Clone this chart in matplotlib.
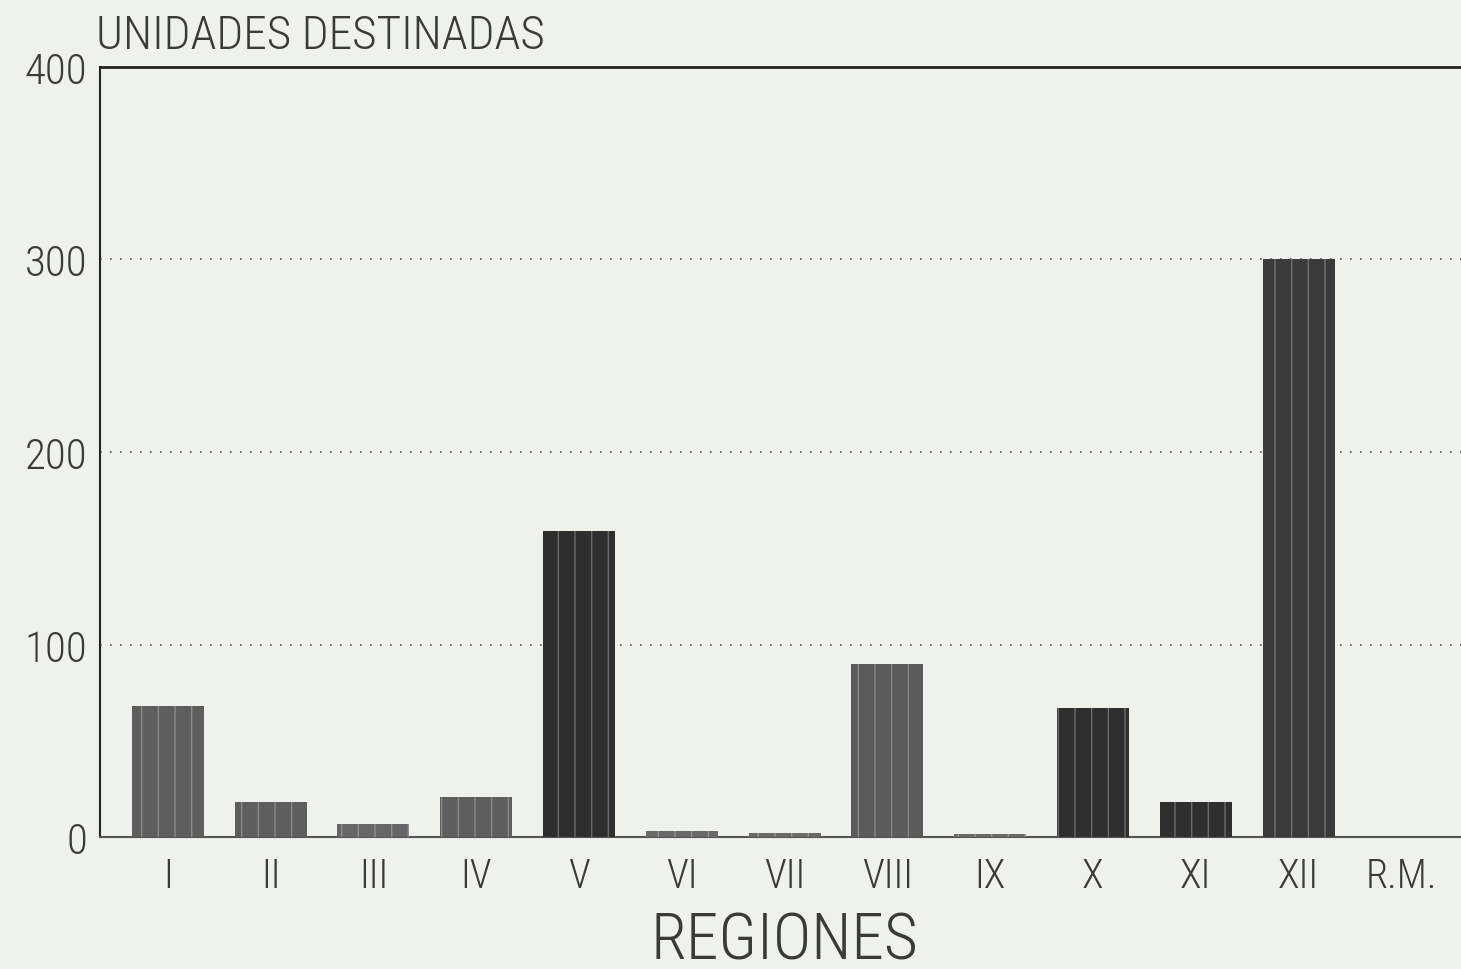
import matplotlib
matplotlib.use("Agg")
import matplotlib.pyplot as plt
from matplotlib import font_manager

regions = ["I", "II", "III", "IV", "V", "VI", "VII", "VIII", "IX", "X", "XI", "XII", "R.M."]
units = [68, 18, 7, 21, 159, 3, 2, 90, 1.5, 67, 18, 300, 0]
yticks = [0, 100, 200, 300, 400]

bar_colors = ["#5e5e5e", "#5e5e5e", "#666666", "#5e5e5e", "#2e2e2e", "#6a6a6a", "#6a6a6a",
              "#5a5a5a", "#6a6a6a", "#2f2f2f", "#2f2f2f", "#3a3a3a", "#3a3a3a"]

# pick a light / condensed font if one is installed
fam = "DejaVu Sans"
weight = "normal"
entries = font_manager.fontManager.ttflist
cands = ["Roboto Condensed", "Liberation Sans Narrow", "Open Sans Condensed", "Roboto", "Lato", "Open Sans", "Inter", "Noto Sans"]
found = False
for c in cands:
    for f in entries:
        if f.name == c and isinstance(f.weight, int) and f.weight <= 300:
            fam, weight, found = c, f.weight, True
            break
    if found:
        break
plt.rcParams["font.family"] = [fam, "DejaVu Sans"]
plt.rcParams["font.weight"] = weight

bg = "#eff2ec"
tc = "#3a3a3a"
fig = plt.figure(figsize=(14.61, 9.70), dpi=100, facecolor=bg)
ax = fig.add_axes([0.0684, 0.136, 0.9316, 0.794])
ax.set_facecolor(bg)

x = list(range(len(regions)))
ax.bar(x, units, width=0.70, color=bar_colors, edgecolor="none", zorder=3)
ax.bar(x, units, width=0.70, color="none", edgecolor="#dddddd", linewidth=0, hatch="|", zorder=4, alpha=0.35)

ax.set_xlim(-0.66, 12.58)
ax.set_ylim(0, 400)
ax.set_yticks(yticks)
ax.set_yticklabels([str(v) for v in yticks], fontsize=31, color=tc)
ax.set_xticks(x)
ax.set_xticklabels(regions, fontsize=29, color=tc)
ax.tick_params(axis="x", length=0, pad=14)
ax.tick_params(axis="y", length=0, pad=9)

for v in [100, 200, 300]:
    ax.axhline(v, color="#555555", linestyle=(0, (1, 5)), linewidth=1.2, zorder=1)

ax.spines["right"].set_visible(False)
ax.spines["top"].set_linewidth(2)
ax.spines["top"].set_color("#222222")
ax.spines["left"].set_linewidth(1.5)
ax.spines["left"].set_color("#222222")
ax.spines["bottom"].set_linewidth(1.5)
ax.spines["bottom"].set_color("#555555")

fig.text(0.066, 0.963, "UNIDADES DESTINADAS", fontsize=34, color=tc, ha="left", va="center")
fig.text(0.537, 0.029, "REGIONES", fontsize=47, color=tc, ha="center", va="center")

fig.savefig("out.png", dpi=100, facecolor=bg)
